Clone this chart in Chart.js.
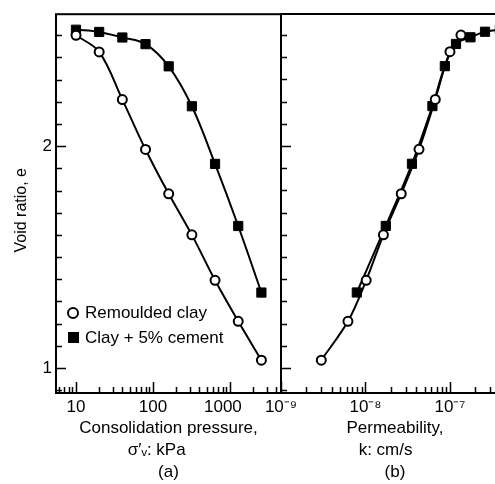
<!DOCTYPE html>
<html>
<head>
<meta charset="utf-8">
<script src="https://cdn.jsdelivr.net/npm/chart.js@4.4.1/dist/chart.umd.min.js"></script>
<style>
  html, body { margin: 0; padding: 0; background: #fff; overflow: hidden; }
  #wrap { position: relative; width: 495px; height: 484px; overflow: hidden; }
  canvas { position: absolute; top: 0; }
  #chart-a { left: 0; }
  #chart-b { left: 250px; }
  .key { position: absolute; left: 67px; height: 20px; line-height: 20px; font: 17px 'Liberation Sans', Arial, sans-serif; color: #000; white-space: nowrap; }
  .key span { display: inline-block; vertical-align: middle; margin-right: 6px; position: relative; top: -1px; }
  .circ { width: 8px; height: 8px; border: 2px solid #000; border-radius: 50%; background: #fff; }
  .sq { width: 11px; height: 11px; background: #000; margin-left: 1px; }
</style>
</head>
<body>
<div id="wrap">
  <canvas id="chart-a" width="290" height="484"></canvas>
  <canvas id="chart-b" width="263" height="484"></canvas>
  <div class="key" style="top:303px"><span class="circ"></span>Remoulded clay</div>
  <div class="key" style="top:328px"><span class="sq"></span>Clay + 5% cement</div>
</div>
<script>
'use strict'

// consolidation steps (kPa) and the void ratio reached at each one
let pressureKPa = [10, 20, 40, 80, 160, 320, 640, 1280, 2560];
let voidRemoulded = [2.50, 2.425, 2.21, 1.985, 1.785, 1.60, 1.395, 1.21, 1.035];
let voidCement = [2.525, 2.515, 2.49, 2.46, 2.36, 2.18, 1.92, 1.64, 1.34];

// permeability (cm/s) measured at the same steps
let permRemoulded = [1.35e-7, 1.0e-7, 6.7e-8, 4.3e-8, 2.65e-8, 1.63e-8, 1.02e-8, 6.2e-9, 3.0e-9];
let permCement = [3.9e-7, 2.6e-7, 1.75e-7, 1.18e-7, 8.7e-8, 6.2e-8, 3.55e-8, 1.74e-8, 7.9e-9];

let pressureTicks = [10, 100, 1000];
let pressureLabels = ["10", "100", "1000   "];
let permTicks = [1e-9, 1e-8, 1e-7];
let permLabels = ["10\u207B\u2079", "10\u207B\u2078", "10\u207B\u2077"];
let voidTicks = [1, 2];
let voidLabels = ["1", "2"];

Chart.defaults.font.family = "'Liberation Sans', Arial, sans-serif";
Chart.defaults.font.size = 17;
Chart.defaults.color = "#000";

function tickLabel(values, labels) {
    return function (value) {
        let i = values.findIndex(t => Math.abs(value - t) <= t * 1e-6);
        return i < 0 ? "" : labels[i];
    };
}

function logTickValues(min, max) {
    let out = [];
    for (let d = Math.floor(Math.log10(min)); d <= Math.ceil(Math.log10(max)); d++) {
        for (let m = 1; m <= 9; m++) {
            let v = m * Math.pow(10, d);
            if (v >= min * 0.999 && v <= max) out.push({ v: v, major: m === 1 });
        }
    }
    return out;
}

// inward tick marks and the box round the plot
const frameTicks = {
    id: "frameTicks",
    afterDatasetsDraw(chart) {
        let { ctx, chartArea: a } = chart;
        let x = chart.scales.x;
        let y = chart.scales.y;
        ctx.save();
        ctx.strokeStyle = "#000";
        ctx.lineWidth = 2;
        ctx.strokeRect(a.left, a.top, a.right - a.left, a.bottom - a.top);

        ctx.lineWidth = 1.5;
        ctx.beginPath();
        logTickValues(x.min, x.max).forEach(function (t) {
            let px = Math.round(x.getPixelForValue(t.v)) + 0.5;
            ctx.moveTo(px, a.bottom);
            ctx.lineTo(px, a.bottom - (t.major ? 11 : 6));
        });
        for (let i = 9; i <= 25; i++) {
            let py = Math.round(y.getPixelForValue(i / 10)) + 0.5;
            ctx.moveTo(a.left, py);
            ctx.lineTo(a.left + (i % 10 === 0 ? 10 : 6), py);
        }
        ctx.stroke();
        ctx.restore();
    },
};

let remouldedStyle = {
    borderColor: "#000",
    borderWidth: 2,
    pointStyle: "circle",
    pointRadius: 4.5,
    pointBorderWidth: 2,
    pointBackgroundColor: "#fff",
    pointBorderColor: "#000",
    tension: 0.35,
    fill: false,
};

let cementStyle = {
    borderColor: "#000",
    borderWidth: 2,
    pointStyle: "rect",
    pointRadius: 6.5,
    pointBorderWidth: 1,
    pointBackgroundColor: "#000",
    pointBorderColor: "#000",
    tension: 0.35,
    fill: false,
};

function voidAxis(showLabels, width) {
    return {
        type: "linear",
        min: 0.887,
        max: 2.595,
        grid: { display: false, drawTicks: false },
        border: { display: false },
        ticks: {
            display: showLabels,
            stepSize: 0.5,
            includeBounds: false,
            padding: 4,
            callback: tickLabel(voidTicks, voidLabels),
        },
        title: {
            display: showLabels,
            text: "Void ratio, e   ",
            font: { size: 16 },
            padding: { top: 12, bottom: 0 },
        },
        afterFit: function (scale) {
            scale.width = width;
        },
    };
}

function logAxis(min, max, ticks, labels, title) {
    return {
        type: "logarithmic",
        min: min,
        max: max,
        grid: { display: false, drawTicks: false },
        border: { display: false },
        ticks: {
            autoSkip: false,
            maxRotation: 0,
            includeBounds: false,
            padding: 4,
            callback: tickLabel(ticks, labels),
        },
        title: {
            display: true,
            text: title,
            font: { lineHeight: 1.294 },
            padding: { top: 0, bottom: 1 },
        },
        afterFit: function (scale) {
            scale.height = 91;
        },
    };
}

function points(xs, ys) {
    return xs.map((v, i) => ({ x: v, y: ys[i] }));
}

let chartA = new Chart(document.getElementById("chart-a").getContext("2d"), {
    type: "line",
    data: {
        datasets: [
            Object.assign({ label: "Remoulded clay", data: points(pressureKPa, voidRemoulded) }, remouldedStyle),
            Object.assign({ label: "Clay + 5% cement", data: points(pressureKPa, voidCement) }, cementStyle),
        ],
    },
    options: {
        responsive: false,
        animation: false,
        devicePixelRatio: 1,
        events: [],
        layout: { autoPadding: false, padding: { top: 14, right: 9, left: 0, bottom: 0 } },
        plugins: { legend: { display: false }, tooltip: { enabled: false } },
        scales: {
            x: logAxis(5.5, 4600, pressureTicks, pressureLabels,
                ["Consolidation pressure,", "\u03C3\u2032\u1D65: kPa     ", "(a)"]),
            y: voidAxis(true, 56),
        },
    },
    plugins: [frameTicks],
});

let chartB = new Chart(document.getElementById("chart-b").getContext("2d"), {
    type: "line",
    data: {
        datasets: [
            Object.assign({ label: "Remoulded clay", data: points(permRemoulded, voidRemoulded) }, remouldedStyle),
            Object.assign({ label: "Clay + 5% cement", data: points(permCement, voidCement) }, cementStyle),
        ],
    },
    options: {
        responsive: false,
        animation: false,
        devicePixelRatio: 1,
        events: [],
        layout: { autoPadding: false, padding: { top: 14, right: 0, left: 0, bottom: 0 } },
        plugins: { legend: { display: false }, tooltip: { enabled: false } },
        scales: {
            x: logAxis(1e-9, 5e-7, permTicks, permLabels, ["Permeability,", "k: cm/s    ", "(b)"]),
            y: voidAxis(false, 31),
        },
    },
    plugins: [frameTicks],
});
</script>
</body>
</html>
